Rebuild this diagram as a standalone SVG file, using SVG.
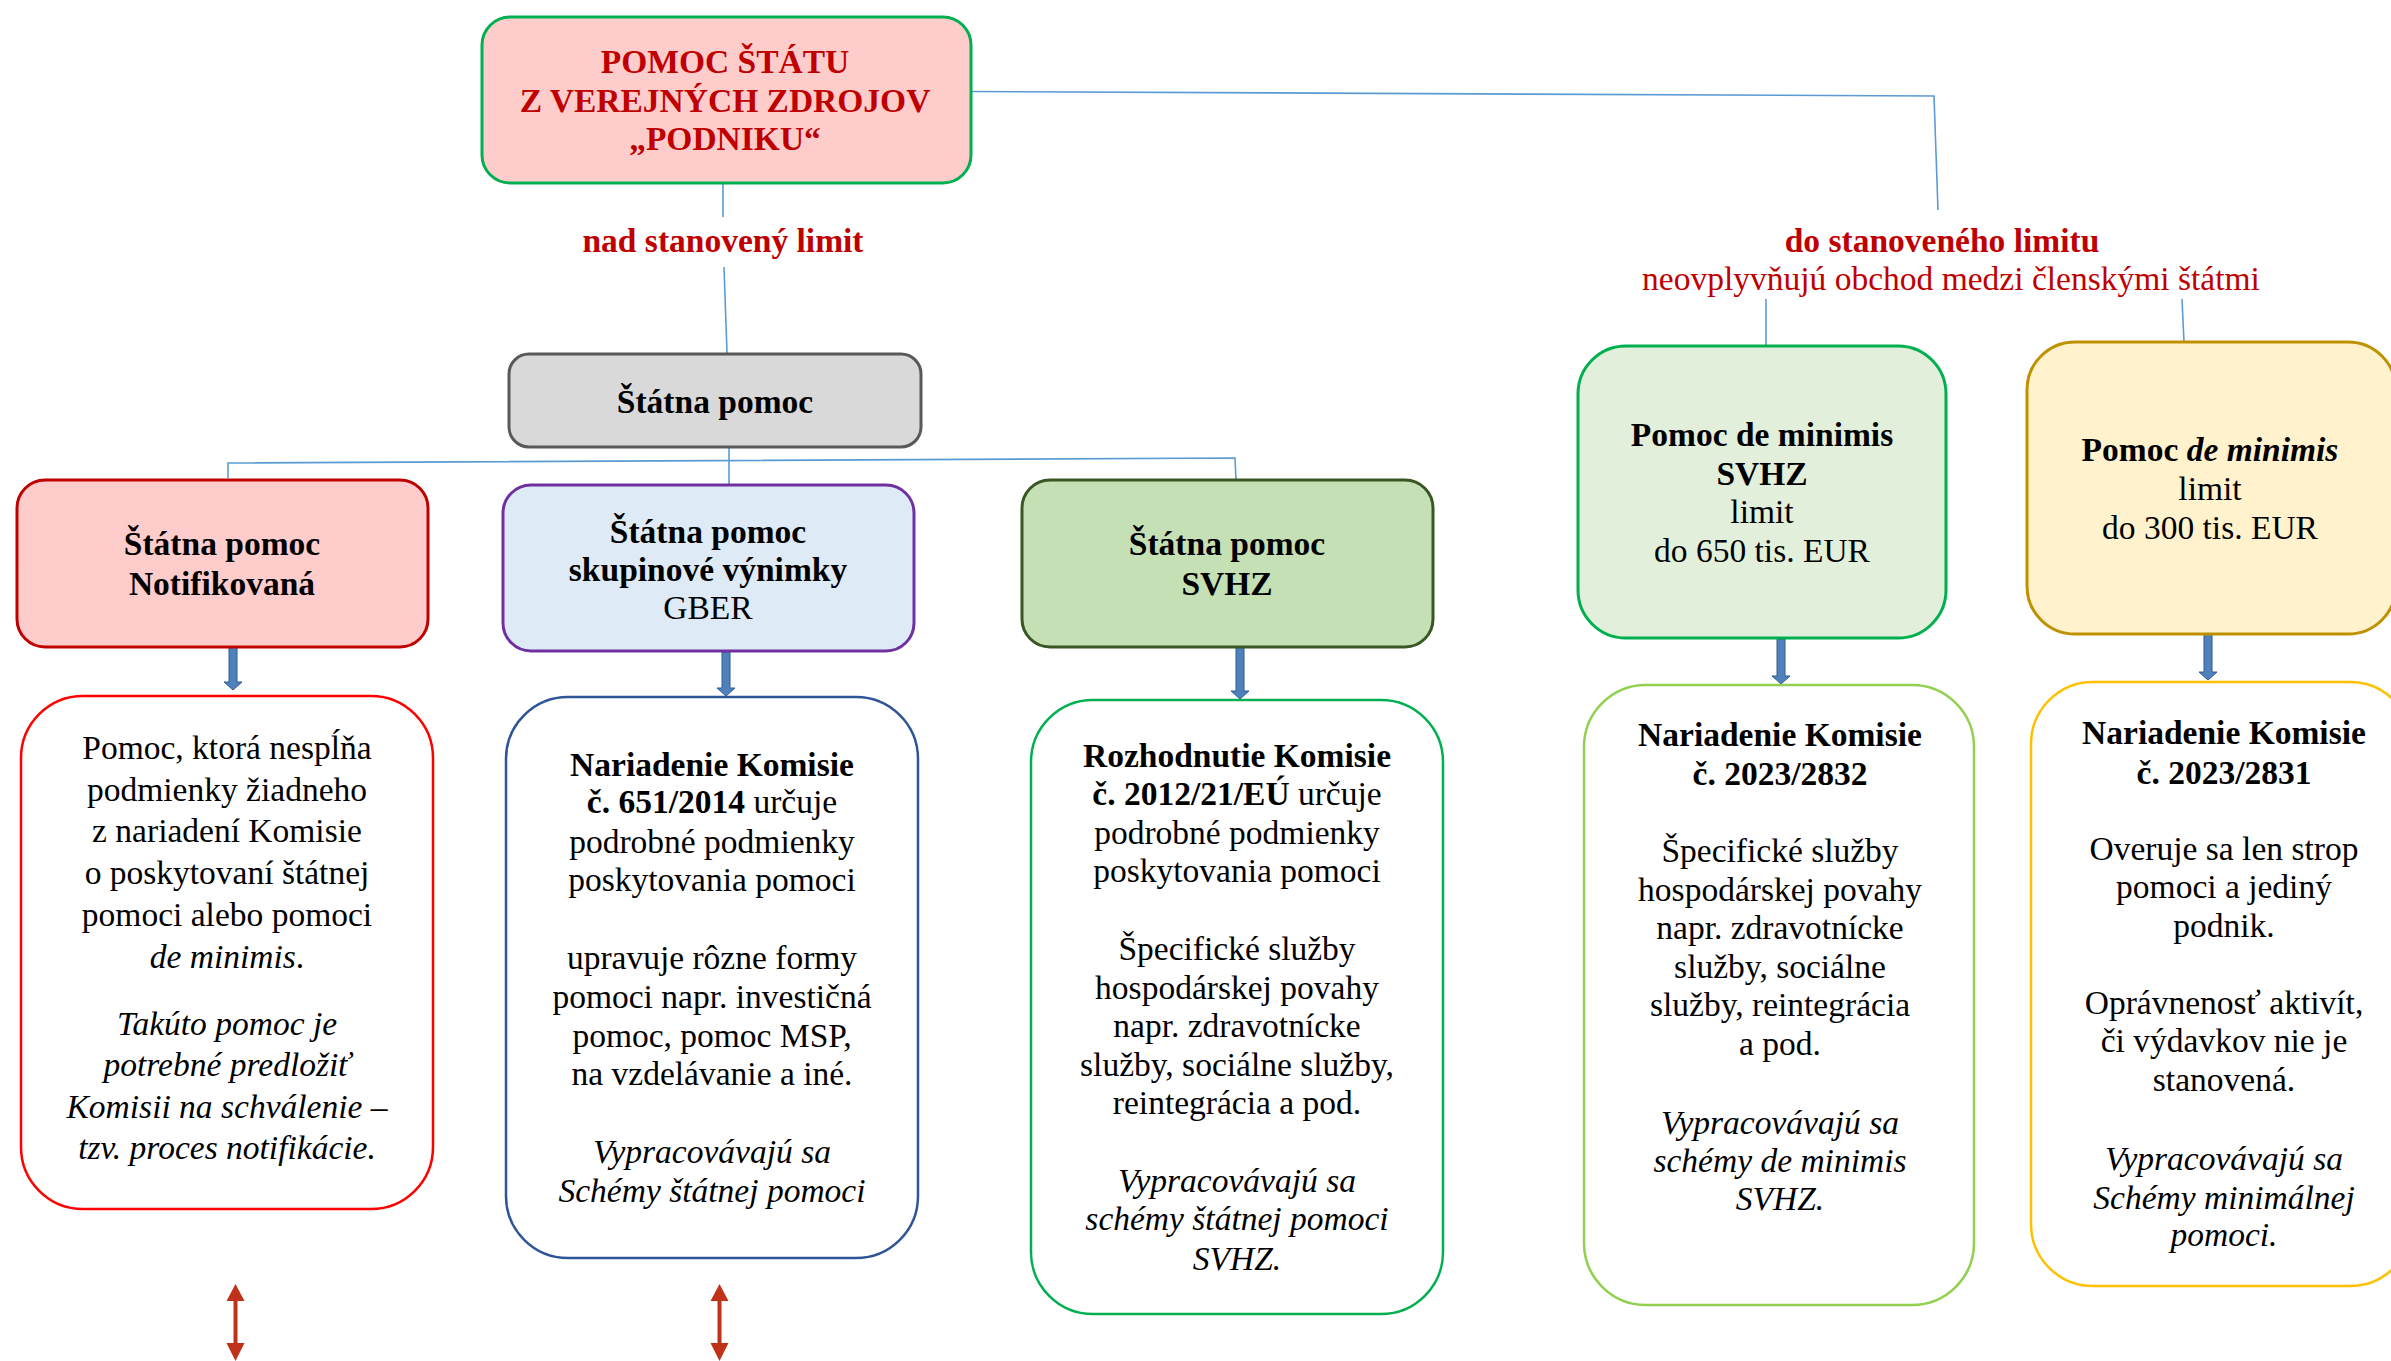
<svg xmlns="http://www.w3.org/2000/svg" width="2391" height="1361" viewBox="0 0 2391 1361">
<style>
text{font-family:"Liberation Serif","Times New Roman",serif;font-size:33.5px;fill:#000;text-anchor:middle}
.b{font-weight:bold}
.i{font-style:italic}
.red{fill:#C00000}
.conn{fill:none;stroke:#5B9BD5;stroke-width:1.6}
.barrow{fill:#4F81BD;stroke:#2E5C8A;stroke-width:1}
.rarrow{fill:#C0311A}
</style>
<rect width="2391" height="1361" fill="#fff"/>
<g id="connectors">
<polyline class="conn" points="723,184 723,217"/>
<polyline class="conn" points="724,267 727,353"/>
<polyline class="conn" points="971,91.5 1934,96 1938,210"/>
<polyline class="conn" points="1766,299 1766,346"/>
<polyline class="conn" points="2182,299 2184,342"/>
<polyline class="conn" points="228,478 228,463 1235,458 1236,480"/>
<polyline class="conn" points="729,447 729,484"/>
<path class="barrow" d="M229,647 h8 v35 h5 l-9,8 l-9,-8 h5 z"/>
<path class="barrow" d="M722,652 h8 v36 h5 l-9,8 l-9,-8 h5 z"/>
<path class="barrow" d="M1236,647 h8 v44 h5 l-9,8 l-9,-8 h5 z"/>
<path class="barrow" d="M1777,639 h8 v37 h5 l-9,8 l-9,-8 h5 z"/>
<path class="barrow" d="M2204,634 h8 v38 h5 l-9,8 l-9,-8 h5 z"/>
<g class="rarrow">
<path d="M235.5,1284 l9,17 h-7 v42 h7 l-9,18 l-9,-18 h7 v-42 h-7 z"/>
<path d="M719.5,1284 l9,17 h-7 v42 h7 l-9,18 l-9,-18 h7 v-42 h-7 z"/>
</g>
</g>
<g id="n-root">
<rect x="482" y="17" width="489" height="166" rx="28" fill="#FFCCCC" stroke="#00B050" stroke-width="3"/>
<text class="b red" x="725" y="73">POMOC ŠTÁTU</text>
<text class="b red" x="725" y="111.5">Z VEREJNÝCH ZDROJOV</text>
<text class="b red" x="725" y="150">„PODNIKU“</text>
</g>
<g id="lbl-nad"><text class="b red" x="723" y="252">nad stanovený limit</text></g>
<g id="lbl-do">
<text class="b red" x="1942" y="252">do stanoveného limitu</text>
<text class="red" x="1951" y="290">neovplyvňujú obchod medzi členskými štátmi</text>
</g>
<g id="n-statna">
<rect x="509" y="354" width="412" height="93" rx="20" fill="#D9D9D9" stroke="#595959" stroke-width="3"/>
<text class="b" x="715" y="413">Štátna pomoc</text>
</g>
<g id="n-notif">
<rect x="17" y="480" width="411" height="167" rx="28" fill="#FFCCCC" stroke="#C00000" stroke-width="3"/>
<text class="b" x="222" y="555">Štátna pomoc</text>
<text class="b" x="222" y="595">Notifikovaná</text>
</g>
<g id="n-gber">
<rect x="503" y="485" width="411" height="166" rx="28" fill="#DEEBF7" stroke="#7030A0" stroke-width="3"/>
<text class="b" x="708" y="543">Štátna pomoc</text>
<text class="b" x="708" y="581">skupinové výnimky</text>
<text x="708" y="619">GBER</text>
</g>
<g id="n-svhz">
<rect x="1022" y="480" width="411" height="167" rx="28" fill="#C5E0B4" stroke="#385723" stroke-width="3"/>
<text class="b" x="1227" y="555">Štátna pomoc</text>
<text class="b" x="1227" y="595">SVHZ</text>
</g>
<g id="n-dmsvhz">
<rect x="1578" y="346" width="368" height="292" rx="48" fill="#E2EFDA" stroke="#00B050" stroke-width="3"/>
<text class="b" x="1762" y="446">Pomoc de minimis</text>
<text class="b" x="1762" y="485">SVHZ</text>
<text x="1762" y="523">limit</text>
<text x="1762" y="562">do 650 tis. EUR</text>
</g>
<g id="n-dm">
<rect x="2027" y="342" width="369" height="292" rx="48" fill="#FFF2CC" stroke="#BF9000" stroke-width="3"/>
<text class="b" x="2210" y="461">Pomoc <tspan class="i">de minimis</tspan></text>
<text x="2210" y="499.5">limit</text>
<text x="2210" y="539">do 300 tis. EUR</text>
</g>
<g id="b-notif">
<rect x="21" y="696" width="412" height="513" rx="62" fill="#fff" stroke="#FF0000" stroke-width="2.5"/>
<text x="227" y="759">Pomoc, ktorá nespĺňa</text>
<text x="227" y="801">podmienky žiadneho</text>
<text x="227" y="842">z nariadení Komisie</text>
<text x="227" y="884">o poskytovaní štátnej</text>
<text x="227" y="926">pomoci alebo pomoci</text>
<text x="227" y="968"><tspan class="i">de minimis</tspan>.</text>
<text class="i" x="227" y="1035">Takúto pomoc je</text>
<text class="i" x="227" y="1076">potrebné predložiť</text>
<text class="i" x="227" y="1118">Komisii na schválenie –</text>
<text class="i" x="227" y="1159">tzv. proces notifikácie.</text>
</g>
<g id="b-gber">
<rect x="506" y="697" width="412" height="561" rx="62" fill="#fff" stroke="#2F5597" stroke-width="2.5"/>
<text class="b" x="712" y="776">Nariadenie Komisie</text>
<text x="712" y="813"><tspan class="b">č. 651/2014</tspan> určuje</text>
<text x="712" y="853">podrobné podmienky</text>
<text x="712" y="891">poskytovania pomoci</text>
<text x="712" y="969">upravuje rôzne formy</text>
<text x="712" y="1008">pomoci napr. investičná</text>
<text x="712" y="1047">pomoc, pomoc MSP,</text>
<text x="712" y="1085">na vzdelávanie a iné.</text>
<text class="i" x="712" y="1163">Vypracovávajú sa</text>
<text class="i" x="712" y="1202">Schémy štátnej pomoci</text>
</g>
<g id="b-svhz">
<rect x="1031" y="700" width="412" height="614" rx="62" fill="#fff" stroke="#00B050" stroke-width="2.5"/>
<text class="b" x="1237" y="767">Rozhodnutie Komisie</text>
<text x="1237" y="805"><tspan class="b">č. 2012/21/EÚ</tspan> určuje</text>
<text x="1237" y="844">podrobné podmienky</text>
<text x="1237" y="882">poskytovania pomoci</text>
<text x="1237" y="960">Špecifické služby</text>
<text x="1237" y="999">hospodárskej povahy</text>
<text x="1237" y="1037">napr. zdravotnícke</text>
<text x="1237" y="1076">služby, sociálne služby,</text>
<text x="1237" y="1114">reintegrácia a pod.</text>
<text class="i" x="1237" y="1192">Vypracovávajú sa</text>
<text class="i" x="1237" y="1230">schémy štátnej pomoci</text>
<text class="i" x="1237" y="1270">SVHZ.</text>
</g>
<g id="b-dmsvhz">
<rect x="1584" y="685" width="390" height="620" rx="62" fill="#fff" stroke="#92D050" stroke-width="2.5"/>
<text class="b" x="1780" y="746">Nariadenie Komisie</text>
<text class="b" x="1780" y="785">č. 2023/2832</text>
<text x="1780" y="862">Špecifické služby</text>
<text x="1780" y="901">hospodárskej povahy</text>
<text x="1780" y="939">napr. zdravotnícke</text>
<text x="1780" y="978">služby, sociálne</text>
<text x="1780" y="1016">služby, reintegrácia</text>
<text x="1780" y="1055">a pod.</text>
<text class="i" x="1780" y="1134">Vypracovávajú sa</text>
<text class="i" x="1780" y="1172">schémy de minimis</text>
<text class="i" x="1780" y="1210">SVHZ.</text>
</g>
<g id="b-dm">
<rect x="2031" y="682" width="381" height="604" rx="62" fill="#fff" stroke="#FFC000" stroke-width="2.5"/>
<text class="b" x="2224" y="744">Nariadenie Komisie</text>
<text class="b" x="2224" y="784">č. 2023/2831</text>
<text x="2224" y="860">Overuje sa len strop</text>
<text x="2224" y="898">pomoci a jediný</text>
<text x="2224" y="937">podnik.</text>
<text x="2224" y="1014">Oprávnenosť aktivít,</text>
<text x="2224" y="1052">či výdavkov nie je</text>
<text x="2224" y="1091">stanovená.</text>
<text class="i" x="2224" y="1170">Vypracovávajú sa</text>
<text class="i" x="2224" y="1209">Schémy minimálnej</text>
<text class="i" x="2224" y="1246">pomoci.</text>
</g>
</svg>
